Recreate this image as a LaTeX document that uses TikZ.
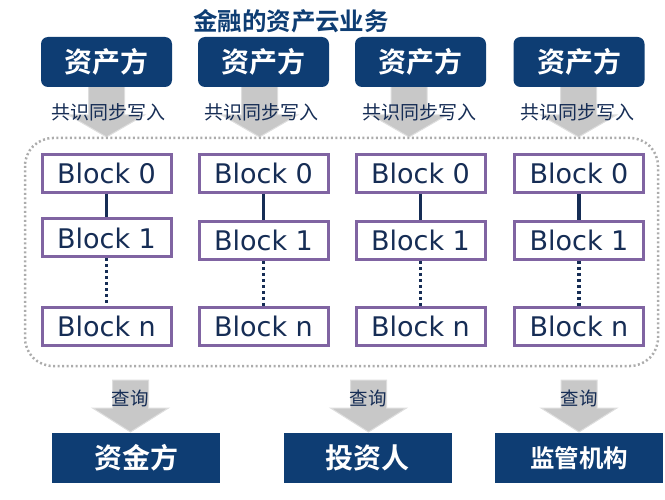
\documentclass[tikz,border=0pt]{standalone}
\usepackage{fontspec}
\setmainfont{DejaVu Sans}
\newfontfamily\cjk{Noto Sans CJK SC}
\newfontfamily\cjkm{Noto Sans CJK SC Medium}
\newfontfamily\cjkb{Noto Sans CJK SC Bold}
\definecolor{navy}{RGB}{14,61,115}
\definecolor{ink}{RGB}{22,45,85}
\definecolor{lilac}{RGB}{128,100,162}
\definecolor{arrowgray}{RGB}{200,200,200}
\newcommand\grayarrow[4]{% centre x, top, base of head, tip
  \fill[arrowgray, draw=arrowgray!60!white, line width=1pt]
    (#1-18,#2) -- (#1+18,#2) -- (#1+18,#3) -- (#1+38,#3) -- (#1,#4)
    -- (#1-38,#3) -- (#1-18,#3) -- cycle;}

\begin{document}
\begin{tikzpicture}[
    x=1pt,y=-1pt,
    topbox/.style={fill=navy, rounded corners=7pt, minimum width=131pt,
      minimum height=50pt, text=white, font=\cjkb\fontsize{28}{30}\selectfont},
    endbox/.style={fill=navy, minimum width=168pt, minimum height=50pt,
      text=white, font=\cjkb\fontsize{28}{30}\selectfont},
    block/.style={draw=lilac, line width=3pt, fill=white, minimum width=129pt,
      minimum height=38pt, inner sep=0pt, text=ink, font=\fontsize{27}{30}\selectfont},
    link/.style={draw=ink, line width=3.5pt},
    lbl/.style={text=ink, inner sep=1pt, font=\cjk\fontsize{19}{21}\selectfont},
    frame/.style={draw=gray!65, line width=2.5pt, dash pattern=on 2pt off 2.5pt,
      rounded corners=28pt}
    ]
    \useasboundingbox (0,0) rectangle (665,500);
    \node[text=navy, font=\cjkb\fontsize{24.5}{26}\selectfont] (title) at (291,21) {金融的资产云业务};
    \foreach \i/\x/\y/\ax/\lx in {1/106.5/238/106.5/109, 2/263.5/240.5/259.5/261,
        3/420.5/240.5/409/419, 4/579/240.5/578.5/577} {
      \grayarrow{\ax}{80}{115}{137}
      \node[topbox] (top\i) at (\x,62) {资产方};
      \node[lbl] (sync\i) at (\lx,112) {共识同步写入};
      \node[block] (b0-\i) at (\x,173.5) {Block 0};
      \node[block] (b1-\i) at (\x,\y) {Block 1};
      \node[block] (bn-\i) at (\x,326.5) {Block n};
      \draw[link] (b0-\i) -- (b1-\i);
      \draw[link, dash pattern=on 3pt off 3pt] (b1-\i) -- (bn-\i);
    }
    \draw[frame] (25,138) rectangle (658,366);
    \grayarrow{130.5}{380}{408}{432}
    \grayarrow{368.5}{380}{408}{432}
    \grayarrow{579}{380}{408}{432}
    \node[lbl, font=\cjk\fontsize{18.5}{20}\selectfont] (q1) at (130,398) {查询};
    \node[lbl, font=\cjk\fontsize{18.5}{20}\selectfont] (q2) at (368,398) {查询};
    \node[lbl, font=\cjk\fontsize{18.5}{20}\selectfont] (q3) at (579,398) {查询};
    \node[endbox] (fund) at (136,458) {资金方};
    \node[endbox] (invest) at (367.5,458) {投资人};
    \node[endbox, font=\cjkb\fontsize{24.5}{26}\selectfont] (regul) at (579,458) {监管机构};
  \end{tikzpicture}
\end{document}
